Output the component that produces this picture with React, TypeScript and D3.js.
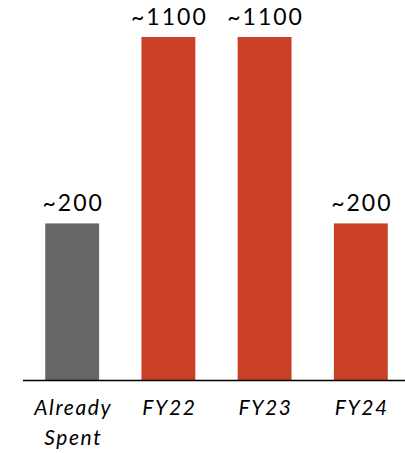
import React from "react";
import * as d3 from "d3";

const categories: string[][] = [["Already", "Spent"], ["FY22"], ["FY23"], ["FY24"]];
const values: number[] = [200, 1100, 1100, 200];
const valueLabels: string[] = ["~200", "~1100", "~1100", "~200"];
const barColors: string[] = ["#666666", "#C94027", "#C94027", "#C94027"];

const W = 405;
const H = 453;
const baseY = 380;
const topY = 37;
const FONT = "Lato, 'Open Sans', sans-serif";

export default function App() {
  const keys = categories.map((c) => c.join(" "));
  const x = d3.scaleBand<string>().domain(keys).range([26, 407]).paddingInner(0.44).paddingOuter(0.2);
  const y = d3.scalePow().exponent(0.46).domain([0, 1100]).range([baseY, topY]);

  return (
    <svg width={W} height={H} style={{ position: "absolute", left: 0, top: 0, background: "#fff" }}>
      {values.map((v, i) => {
        const k = keys[i];
        const bx = x(k)!;
        const bw = x.bandwidth();
        return (
          <g key={k}>
            <rect x={bx} y={y(v)} width={bw} height={baseY - y(v)} fill={barColors[i]} />
            <text
              x={bx + bw / 2 + 1}
              y={y(v) - 12}
              textAnchor="middle"
              fontFamily={FONT}
              fontSize={23}
              letterSpacing={2}
              fill="#000"
            >
              {valueLabels[i]}
            </text>
          </g>
        );
      })}
      <line x1={23} x2={405} y1={baseY + 0.5} y2={baseY + 0.5} stroke="#000" strokeWidth={1.5} />
      {categories.map((lines, i) => {
        const k = keys[i];
        const cx = x(k)! + x.bandwidth() / 2 + 1;
        return (
          <text
            key={k}
            textAnchor="middle"
            fontFamily={FONT}
            fontSize={21}
            fontStyle="italic"
            letterSpacing={1.6}
            fill="#000"
          >
            {lines.map((t, j) => (
              <tspan key={j} x={cx} y={415 + j * 30}>
                {t}
              </tspan>
            ))}
          </text>
        );
      })}
    </svg>
  );
}
